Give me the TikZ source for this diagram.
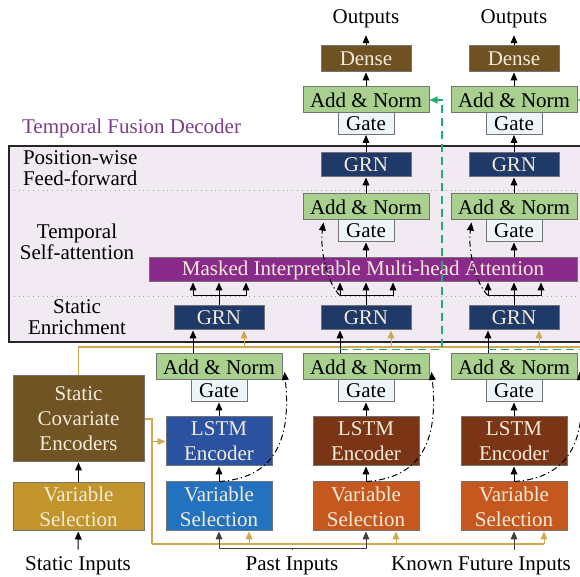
\documentclass[tikz,border=0pt]{standalone}
\usepackage{fontspec}
\setmainfont{Liberation Serif}
\usetikzlibrary{arrows.meta,positioning}

\definecolor{addgreen}{HTML}{A9D08E}
\definecolor{gatebg}{HTML}{EDF5F8}
\definecolor{grnblue}{HTML}{1F3A68}
\definecolor{densebr}{HTML}{6E5222}
\definecolor{attnpur}{HTML}{8A2B8B}
\definecolor{statbr}{HTML}{705424}
\definecolor{statvs}{HTML}{C1952B}
\definecolor{pastlstm}{HTML}{2C53A2}
\definecolor{pastvs}{HTML}{2272BF}
\definecolor{futlstm}{HTML}{7A3517}
\definecolor{futvs}{HTML}{C5581F}
\definecolor{decbg}{HTML}{F1EAF2}
\definecolor{tanline}{HTML}{D2A84E}
\definecolor{skipgreen}{HTML}{1FAE6E}
\definecolor{titlepur}{HTML}{7A3E8A}
\definecolor{lighttxt}{HTML}{F4EADA}

\newcommand{\blkfont}{\fontsize{10.5}{12.5}\selectfont}
\newcommand{\lblfont}{\fontsize{10.5}{10.5}\selectfont}

\tikzset{
  blk/.style={draw=black!55, line width=0.5pt, inner sep=0pt, align=center, font=\blkfont},
  addnorm/.style={blk, fill=addgreen, minimum width=63pt, minimum height=13pt},
  gate/.style={blk, fill=gatebg, minimum width=28pt, minimum height=11pt},
  grn/.style={blk, fill=grnblue, text=lighttxt, minimum width=45pt, minimum height=12pt},
  dense/.style={blk, fill=densebr, text=lighttxt, minimum width=45pt, minimum height=13pt},
  tall/.style={blk, text=lighttxt, minimum width=53pt, minimum height=24.5pt},
  arr/.style={-{Triangle[length=4pt,width=3.4pt]}, line width=0.5pt},
  tanarr/.style={arr, draw=tanline, -{Triangle[length=4pt,width=3.4pt,fill=tanline]}},
  tanln/.style={draw=tanline, line width=0.6pt},
  skip/.style={line width=0.6pt, dash pattern=on 3pt off 1.5pt on 0.6pt off 1.5pt},
  gskip/.style={draw=skipgreen, line width=0.8pt, dash pattern=on 4pt off 2.5pt,
    -{Triangle[length=4pt,width=3.4pt,fill=skipgreen]}}
}

\begin{document}
\begin{tikzpicture}[x=0.5pt, y=-0.5pt, font=\lblfont]
  \useasboundingbox (0,0) rectangle (580,577);

  % decoder frame
  \fill[decbg] (9,146) rectangle (600,342);
  \draw[black!35, dotted] (9,190) -- (600,190) (9,296) -- (600,296);
  \draw[black!85, line width=0.9pt] (600,146) -- (9,146) -- (9,342) -- (600,342);
  \node[text=titlepur, anchor=west] (dectitle) at (15,128) {Temporal Fusion Decoder};
  \node[anchor=west, align=left] (fflab) at (16,168) {Position-wise\\Feed-forward};
  \node[align=center] (salab) at (77,242) {Temporal\\Self-attention};
  \node[align=center] (selab) at (77,317) {Static\\Enrichment};

  \node[blk, fill=attnpur, text=lighttxt, minimum width=214pt, minimum height=12pt] (mha) at (363,270)
    {Masked Interpretable Multi-head Attention};

  % static path
  \node (sin) at (78,566) {Static Inputs};
  \node[tall, fill=statvs, minimum width=65.5pt, minimum height=24pt] (svs) at (78.5,507) {Variable\\Selection};
  \node[tall, fill=statbr, minimum width=65.5pt, minimum height=43pt] (sce) at (78.5,419) {Static\\Covariate\\Encoders};
  \draw[arr] (sin) -- (svs);
  \draw[arr] (svs) -- (sce);

  % tan context lines
  \coordinate (tanend) at (600,347);
  \coordinate (tanbot) at (152,544);
  \draw[tanln] (sce.north) |- (tanend);
  \draw[tanln] (sce.east) -- (tanbot |- sce.east) -- (tanbot);

  % encoder columns + static enrichment
  \foreach \n/\x/\lc/\vc in {1/219/pastlstm/pastvs, 2/366/futlstm/futvs, 3/514/futlstm/futvs} {
    \node[grn] (segrn\n) at (\x,318) {GRN};
    \node[addnorm] (ean\n) at (\x,367) {Add \& Norm};
    \node[gate] (egt\n) at (\x,391) {Gate};
    \node[tall, fill=\lc] (lstm\n) at (\x,441.5) {LSTM\\Encoder};
    \node[tall, fill=\vc] (vs\n) at (\x,506.5) {Variable\\Selection};
    \draw[arr] (vs\n) -- (lstm\n);
    \draw[arr] (lstm\n) -- (egt\n);
    \draw[arr] ([xshift=-13pt]ean\n.north) -- ([xshift=-13pt]segrn\n.south);
    \draw[tanarr] ([xshift=12.5pt]segrn\n.south |- tanend) -- ([xshift=12.5pt]segrn\n.south);
    \draw[tanarr] ([xshift=15pt]vs\n.south |- tanbot) -- ([xshift=15pt]vs\n.south);
    \draw[skip, arr] (vs\n.north) .. controls +(50,-3) and +(8,75) .. ([xshift=1pt,yshift=-2.5pt]ean\n.east);
    % branches into attention
    \path (segrn\n.north) ++(0,-10) coordinate (br\n);
    \draw (segrn\n.north) -- (br\n);
    \draw[arr] (br\n) -- (br\n |- mha.south);
    \draw[arr] (br\n) -| ([xshift=-13pt]br\n |- mha.south);
    \draw[arr] (br\n) -| ([xshift=13.5pt]br\n |- mha.south);
  }
  \draw[tanln] (tanbot) -- ([xshift=15pt]vs3.south |- tanbot);
  \draw[tanarr] (tanbot |- lstm1.west) -- (lstm1.west);

  % inputs
  \node (pin) at (292,566) {Past Inputs};
  \node (fin) at (481,566) {Known Future Inputs};
  \coordinate (pastrow) at (292,549);
  \draw[black!75, line width=0.5pt] (pin.north) -- (pastrow);
  \draw[arr, black!75] (pastrow) -| (vs1.south);
  \draw[arr, black!75] (pastrow) -| (vs2.south);
  \draw[arr, black!75] (fin.north -| vs3.south) -- (vs3.south);

  % decoder columns
  \foreach \n/\x in {2/366, 3/514} {
    \node (out\n) at (\x,19) {Outputs};
    \node[dense] (dense\n) at (\x,59) {Dense};
    \node[addnorm] (an\n) at (\x,100) {Add \& Norm};
    \node[gate] (gt\n) at (\x,123.5) {Gate};
    \node[grn] (ffgrn\n) at (\x,165) {GRN};
    \node[addnorm] (aan\n) at (\x,207) {Add \& Norm};
    \node[gate] (agt\n) at (\x,231) {Gate};
    \draw[arr] (dense\n) -- (out\n);
    \draw[arr] (an\n) -- (dense\n);
    \draw[arr] (ffgrn\n) -- (gt\n);
    \draw[arr] (aan\n) -- (ffgrn\n);
    \draw[arr] (mha.north -| agt\n) -- (agt\n);
    \draw[skip, arr] ([xshift=-13pt]br\n) .. controls +(-12,-11) and +(-4,28) .. ([xshift=10.5pt,yshift=-1pt]aan\n.south west);
  }

  % skip over the decoder
  \draw[gskip] ([xshift=-13pt,yshift=2pt]ean2.north) -- ++(102,0) |- (an2.east);
  \draw[gskip] ([xshift=-13pt,yshift=2pt]ean3.north) -- ++(110,0) |- (an3.east);
\end{tikzpicture}
\end{document}
